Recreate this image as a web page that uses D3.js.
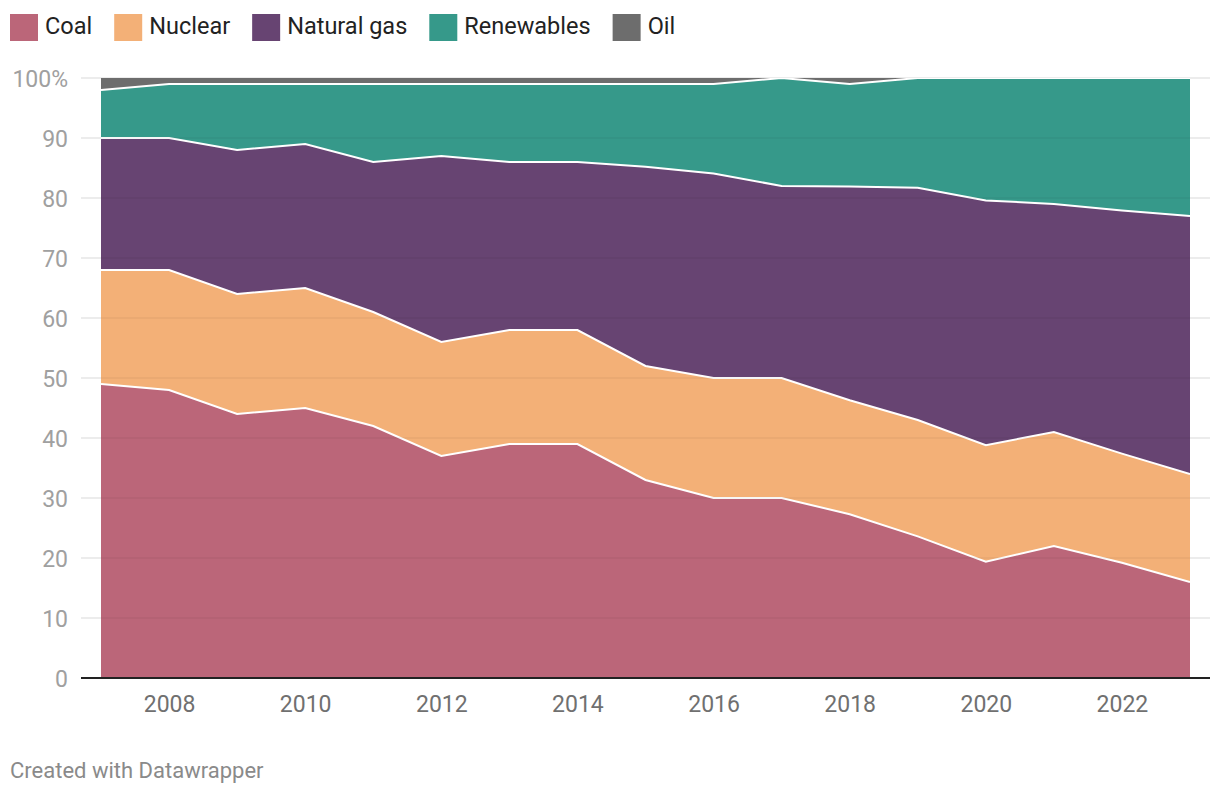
<!DOCTYPE html>
<html>
<head>
<meta charset="utf-8">
<script src="https://cdn.jsdelivr.net/npm/d3@7"></script>
<style>
  html, body { margin: 0; padding: 0; background: #fff; }
  body { width: 1220px; height: 796px; overflow: hidden; font-family: Roboto, "Noto Sans", sans-serif; }
</style>
</head>
<body>
<svg id="chart" width="1220" height="796"></svg>
<script>
const years = [2007,2008,2009,2010,2011,2012,2013,2014,2015,2016,2017,2018,2019,2020,2021,2022,2023];
const coal       = [49,48,44,45,42,37,39,39,33,30,30,27.3,23.6,19.4,22,19.2,16];
const nuclear    = [19,20,20,20,19,19,19,19,19,20,20,19,19.4,19.4,19,18.2,18];
const naturalGas = [22,22,24,24,25,31,28,28,33.2,34.1,32,35.6,38.7,40.8,38,40.5,43];
const renewables = [8,9,11,10,13,12,13,13,13.8,14.9,18,17.1,18.3,20.4,21,22.1,23];
const oil        = [2,1,1,1,1,1,1,1,1,1,0,1,0,0,0,0,0];

const seriesNames = ["Coal","Nuclear","Natural gas","Renewables","Oil"];
const colors = ["#bb6679","#f3b077","#674472","#36998a","#6d6d6d"];
const yTicks = [0,10,20,30,40,50,60,70,80,90,100];
const xTicks = [2008,2010,2012,2014,2016,2018,2020,2022];

const rows = years.map((y,i) => ({
  year: y, "Coal": coal[i], "Nuclear": nuclear[i], "Natural gas": naturalGas[i],
  "Renewables": renewables[i], "Oil": oil[i]
}));

const svg = d3.select("#chart");
const x = d3.scaleLinear().domain([2007, 2023]).range([101, 1190]);
const y = d3.scaleLinear().domain([0, 100]).range([678, 78]);

const layers = d3.stack().keys(seriesNames)(rows);

// gridlines (under)
svg.append("g").selectAll("line").data(yTicks.filter(d => d > 0)).join("line")
  .attr("x1", 81).attr("x2", 1210)
  .attr("y1", d => y(d)).attr("y2", d => y(d))
  .attr("stroke", "#e6e6e6").attr("stroke-width", 1.5);

const area = d3.area().x(d => x(d.data.year)).y0(d => y(d[0])).y1(d => y(d[1]));
const line = d3.line().x(d => x(d.data.year)).y(d => y(d[1]));

svg.append("defs").append("clipPath").attr("id","clip")
  .append("rect").attr("x", 101).attr("y", y(100)).attr("width", 1089).attr("height", y(0)-y(100));

const g = svg.append("g").attr("clip-path","url(#clip)");
g.selectAll("path.area").data(layers).join("path")
  .attr("class","area")
  .attr("d", area)
  .attr("fill", (d,i) => colors[i]);

// gridlines showing faintly through areas
svg.append("g").selectAll("line").data(yTicks.filter(d => d > 0 && d < 100)).join("line")
  .attr("x1", 101).attr("x2", 1190)
  .attr("y1", d => y(d)).attr("y2", d => y(d))
  .attr("stroke", "rgba(0,0,0,0.05)").attr("stroke-width", 1.5);

g.selectAll("path.sep").data(layers.slice(0,4)).join("path")
  .attr("class","sep")
  .attr("d", line)
  .attr("fill","none").attr("stroke","#fff").attr("stroke-width", 2);

// baseline
svg.append("line").attr("x1", 81).attr("x2", 1210).attr("y1", y(0)).attr("y2", y(0))
  .attr("stroke", "#222").attr("stroke-width", 2);

// y axis labels
const yAxis = d3.axisLeft(y).tickValues(yTicks).tickSize(0).tickPadding(0)
  .tickFormat(d => d === 100 ? "100%" : d);
const ya = svg.append("g").attr("transform","translate(68,0)").call(yAxis);
ya.select(".domain").remove();
ya.selectAll("text").attr("fill","#a0a0a0").attr("font-size", 23)
  .attr("font-family","Roboto, sans-serif").attr("dy","0.35em");

// x axis labels
const xAxis = d3.axisBottom(x).tickValues(xTicks).tickSize(0).tickPadding(0).tickFormat(d3.format("d"));
const xa = svg.append("g").attr("transform","translate(0,696)").call(xAxis);
xa.select(".domain").remove();
xa.selectAll("text").attr("fill","#707070").attr("font-size", 23)
  .attr("font-family","Roboto, sans-serif").attr("dy","0.71em");

// legend
const legend = svg.append("g").attr("transform","translate(10,14)");
let lx = 0;
seriesNames.forEach((name, i) => {
  const item = legend.append("g").attr("transform", `translate(${lx},0)`);
  item.append("rect").attr("width", 28).attr("height", 27).attr("fill", colors[i]);
  const t = item.append("text").attr("x", 35).attr("y", 20).text(name)
    .attr("font-size", 23.5).attr("fill", "#222").attr("font-family","Roboto, sans-serif");
  lx += 35 + t.node().getComputedTextLength() + 22;
});

// footer
svg.append("text").attr("x", 10).attr("y", 778).text("Created with Datawrapper")
  .attr("font-size", 22).attr("fill", "#8a8a8a").attr("font-family","Roboto, sans-serif");
</script>
</body>
</html>
